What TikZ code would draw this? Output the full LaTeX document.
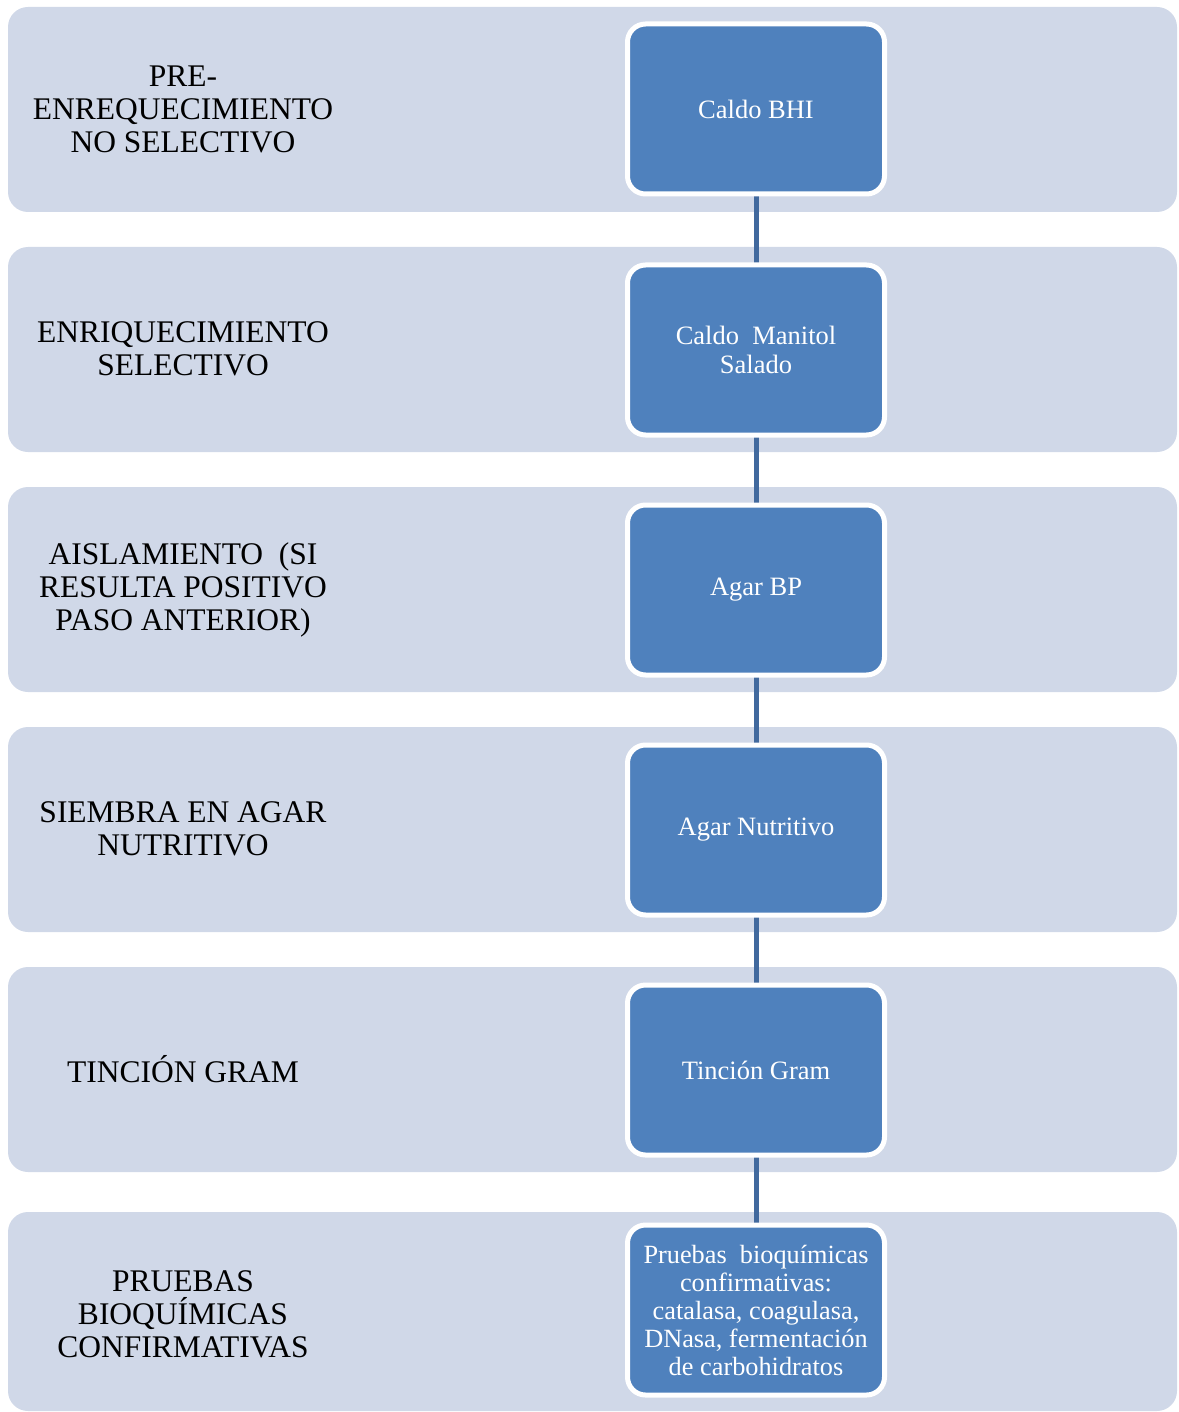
\documentclass[tikz,border=0pt]{standalone}
\usepackage{fontspec}
\setmainfont{Liberation Serif}
\definecolor{bandfill}{HTML}{D0D8E8}
\definecolor{boxfill}{HTML}{4F81BD}
\definecolor{linkcol}{HTML}{41699E}
\begin{document}
\begin{tikzpicture}[x=1pt,y=-1pt,
  band/.style={fill=bandfill,draw=none,rounded corners=20pt},
  stepbox/.style={draw=white,line width=5pt,fill=boxfill,rounded corners=18pt,
    minimum width=257pt,minimum height=170pt,inner sep=0pt,text=white,align=center,
    font=\fontsize{26.5}{29}\selectfont},
  lbl/.style={align=center,text=black,font=\fontsize{31.5}{33}\selectfont,inner sep=0pt},
  link/.style={draw=linkcol,line width=5pt}]
\useasboundingbox (0,0) rectangle (1178,1412);
% bands
\fill[band] (8,7) rectangle (1177,212);
\fill[band] (8,247) rectangle (1177,452);
\fill[band] (8,487) rectangle (1177,692);
\fill[band] (8,727) rectangle (1177,932);
\fill[band] (8,967) rectangle (1177,1172);
\fill[band] (8,1212) rectangle (1177,1411);
% left labels
\node[lbl] (l1) at (183,109) {PRE-\\ENREQUECIMIENTO\\NO SELECTIVO};
\node[lbl] (l2) at (183,349) {ENRIQUECIMIENTO\\SELECTIVO};
\node[lbl] (l3) at (183,590) {AISLAMIENTO\ \ (SI\\RESULTA POSITIVO\\PASO ANTERIOR)};
\node[lbl] (l4) at (183,829) {SIEMBRA EN AGAR\\NUTRITIVO};
\node[lbl] (l5) at (183,1069) {TINCIÓN GRAM};
\node[lbl] (l6) at (183,1314) {PRUEBAS\\BIOQUÍMICAS\\CONFIRMATIVAS};
% connectors (behind boxes)
\coordinate (c1) at (756,109);
\coordinate (c2) at (756,350);
\coordinate (c3) at (756,590);
\coordinate (c4) at (756,830);
\coordinate (c5) at (756,1070);
\coordinate (c6) at (756,1310);
\draw[link] (c1) -- (c2);
\draw[link] (c2) -- (c3);
\draw[link] (c3) -- (c4);
\draw[link] (c4) -- (c5);
\draw[link] (c5) -- (c6);
% boxes
\node[stepbox] (b1) at (c1) {Caldo BHI};
\node[stepbox] (b2) at (c2) {Caldo\ \ Manitol\\Salado};
\node[stepbox] (b3) at (c3) {Agar BP};
\node[stepbox] (b4) at (c4) {Agar Nutritivo};
\node[stepbox] (b5) at (c5) {Tinción Gram};
\node[stepbox,font=\fontsize{26.3}{28}\selectfont] (b6) at (c6) {Pruebas\ \ bioquímicas\\confirmativas:\\catalasa, coagulasa,\\DNasa, fermentación\\de carbohidratos};
\end{tikzpicture}
\end{document}
